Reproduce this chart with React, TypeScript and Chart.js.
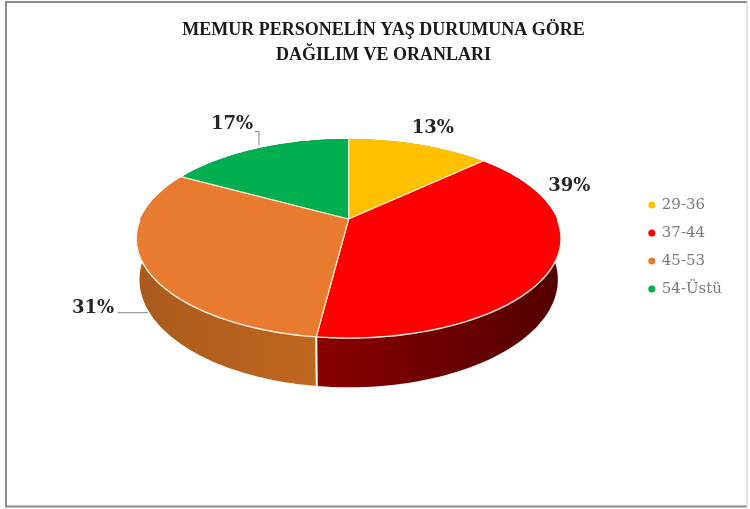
import React, { useEffect, useRef } from "react";
import { Chart, registerables } from "chart.js";

Chart.register(...registerables);

const TITLE_LINES = ["MEMUR PERSONELİN YAŞ DURUMUNA GÖRE", "DAĞILIM VE ORANLARI"];
const CATEGORIES = ["29-36", "37-44", "45-53", "54-Üstü"];
const VALUES = [13, 39, 31, 17];
const TOP_COLORS = ["#FFC000", "#FF0000", "#E97B30", "#00B050"];
const WALL_LEFT = ["#B38600", "#8A0000", "#A85A1C", "#007A38"];
const WALL_RIGHT = ["#B38600", "#520000", "#C0671F", "#007A38"];
const LABEL_OFFSETS = [[14, -16], [17, -80], [-52, 42], [-26, -24]];
const LEADERS: number[][][] = [[], [], [[3, 46], [-27, 46]], [[1, -3], [1, -17], [-3, -17]]];

// Perspective of the disc, relative to the radius computed by Chart.js
const PIE_RADIUS = 175;
const SPREAD_X = 1.19;
const SPREAD_Y = 0.547;
const TILT = 0.196;
const DEPTH = 0.226;
const FLOOR_SHRINK = 0.985;
const CENTER_SHIFT_X = 13;
const CENTER_SHIFT_Y = -65;

const pie3d = {
  id: "pie3d",
  beforeDraw(chart: any) {
    const { ctx, width, height } = chart;
    ctx.save();
    ctx.fillStyle = "#FFFFFF";
    ctx.fillRect(0, 0, width, height);
    ctx.strokeStyle = "#8C8C8C";
    ctx.lineWidth = 2;
    ctx.beginPath();
    ctx.moveTo(width - 3, 2);
    ctx.lineTo(6, 2);
    ctx.lineTo(6, height - 2.5);
    ctx.lineTo(width - 3, height - 2.5);
    ctx.stroke();
    ctx.strokeStyle = "#C8C8C8";
    ctx.lineWidth = 1;
    ctx.beginPath();
    ctx.moveTo(width - 3, 2);
    ctx.lineTo(width - 3, height - 2.5);
    ctx.stroke();
    ctx.restore();
  },
  beforeDatasetDraw(chart: any, args: any) {
    const { ctx } = chart;
    const arcs = chart.getDatasetMeta(args.index).data;
    const first = arcs[0];
    const R = first.outerRadius;
    const ax = first.x + CENTER_SHIFT_X;
    const ay = first.y + CENTER_SHIFT_Y;
    const project = (a: number, r = 1) => {
      // Chart.js angles start at -PI/2; theta is clockwise from the top
      const t = a + Math.PI / 2;
      const u = Math.sin(t) * r;
      const v = Math.cos(t) * r;
      const w = 1 + TILT * v;
      return { x: ax + (R * SPREAD_X * u) / w, y: ay - (R * SPREAD_Y * v) / w, w };
    };
    const samples = (arc: any) => {
      const out: any[] = [];
      const n = 80;
      for (let i = 0; i <= n; i++) {
        out.push(project(arc.startAngle + ((arc.endAngle - arc.startAngle) * i) / n));
      }
      return out;
    };
    const floor = (p: any) => ({
      x: ax + (p.x - ax) * FLOOR_SHRINK,
      y: p.y + (R * DEPTH) / p.w,
    });

    ctx.save();
    // side walls
    arcs.forEach((arc: any, i: number) => {
      const pts = samples(arc);
      const xs = pts.map((p) => p.x);
      const g = ctx.createLinearGradient(Math.min(...xs), 0, Math.max(...xs), 0);
      g.addColorStop(0, WALL_LEFT[i]);
      g.addColorStop(1, WALL_RIGHT[i]);
      ctx.fillStyle = g;
      ctx.beginPath();
      pts.forEach((p, k) => (k ? ctx.lineTo(p.x, p.y) : ctx.moveTo(p.x, p.y)));
      pts.slice().reverse().forEach((p) => {
        const f = floor(p);
        ctx.lineTo(f.x, f.y);
      });
      ctx.closePath();
      ctx.fill();
    });
    // seam where two visible walls meet
    arcs.forEach((arc: any) => {
      const p = project(arc.endAngle);
      if (p.y > ay + R * SPREAD_Y * 0.9) {
        const f = floor(p);
        ctx.strokeStyle = "#FFFFFF";
        ctx.lineWidth = 2;
        ctx.beginPath();
        ctx.moveTo(p.x, p.y);
        ctx.lineTo(f.x, f.y);
        ctx.stroke();
      }
    });
    // top faces
    arcs.forEach((arc: any, i: number) => {
      const pts = samples(arc);
      ctx.fillStyle = TOP_COLORS[i];
      ctx.strokeStyle = "#FFE9D6";
      ctx.lineWidth = 1.2;
      ctx.lineJoin = "round";
      ctx.beginPath();
      ctx.moveTo(ax, ay);
      pts.forEach((p) => ctx.lineTo(p.x, p.y));
      ctx.closePath();
      ctx.fill();
      ctx.beginPath();
      ctx.moveTo(pts[0].x, pts[0].y);
      ctx.lineTo(ax, ay);
      ctx.lineTo(pts[pts.length - 1].x, pts[pts.length - 1].y);
      ctx.stroke();
      // bright rim only along the front of the disc
      ctx.strokeStyle = "#FFF3E6";
      ctx.lineWidth = 1.4;
      ctx.beginPath();
      let open = false;
      pts.forEach((p) => {
        if (p.w < 1.0) {
          if (open) ctx.lineTo(p.x, p.y);
          else ctx.moveTo(p.x, p.y);
          open = true;
        } else open = false;
      });
      ctx.stroke();
    });
    // labels and leader lines
    arcs.forEach((arc: any, i: number) => {
      const anchor = project((arc.startAngle + arc.endAngle) / 2);
      const leader = LEADERS[i];
      if (leader.length) {
        ctx.strokeStyle = "#7F7F7F";
        ctx.lineWidth = 1;
        ctx.beginPath();
        leader.forEach(([dx, dy], k) =>
          k ? ctx.lineTo(anchor.x + dx, anchor.y + dy) : ctx.moveTo(anchor.x + dx, anchor.y + dy)
        );
        ctx.stroke();
      }
      ctx.fillStyle = "#262626";
      ctx.font = 'bold 18px "DejaVu Serif"';
      ctx.textAlign = "center";
      ctx.textBaseline = "middle";
      ctx.fillText(
        `${VALUES[i]}%`,
        anchor.x + LABEL_OFFSETS[i][0],
        anchor.y + LABEL_OFFSETS[i][1]
      );
    });
    ctx.restore();
    return false;
  },
};

export default function App() {
  const ref = useRef<HTMLCanvasElement>(null);
  useEffect(() => {
    const chart = new Chart(ref.current as HTMLCanvasElement, {
      type: "pie",
      data: {
        labels: CATEGORIES,
        datasets: [{ data: VALUES, backgroundColor: TOP_COLORS, borderWidth: 0, radius: PIE_RADIUS }],
      },
      options: {
        responsive: false,
        animation: false,
        layout: { padding: { left: 35, right: 18, top: 0, bottom: 15 } },
        plugins: {
          tooltip: { enabled: false },
          title: {
            display: true,
            text: TITLE_LINES,
            color: "#1A1A1A",
            font: { family: '"Liberation Serif"', size: 18, weight: "bold", lineHeight: 1.39 },
            padding: { top: 18, bottom: 6 },
          },
          legend: {
            position: "right",
            labels: {
              color: "#7A7A7A",
              font: { family: '"DejaVu Serif"', size: 15 },
              usePointStyle: true,
              pointStyle: "circle",
              boxWidth: 5,
              boxHeight: 5,
              padding: 13,
            },
          },
        },
      },
      plugins: [pie3d],
    } as any);
    return () => chart.destroy();
  }, []);
  return (
    <div style={{ position: "absolute", left: 0, top: 0, width: 750, height: 509 }}>
      <canvas ref={ref} width={750} height={509} style={{ display: "block", filter: "blur(0.4px)" }} />
    </div>
  );
}
